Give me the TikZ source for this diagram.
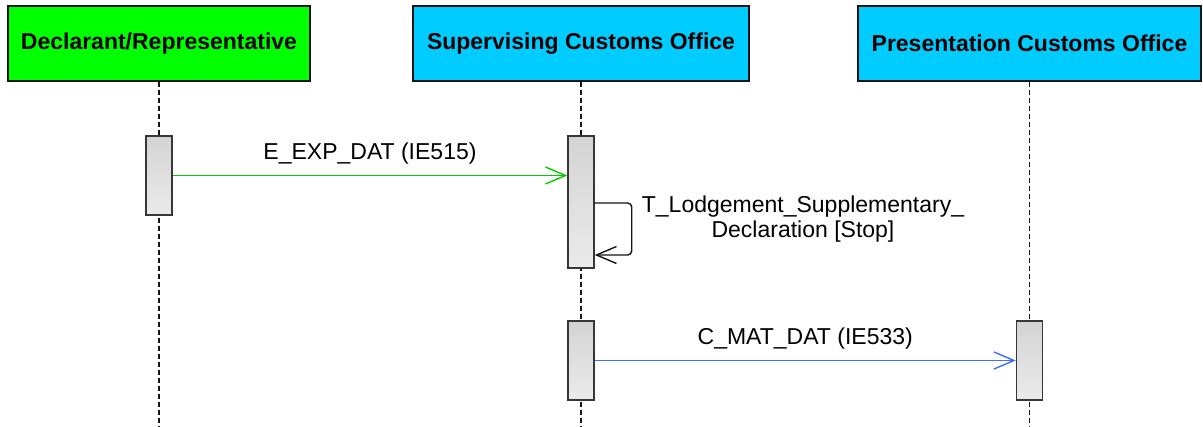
\documentclass[tikz,border=0pt]{standalone}
\usepackage{fontspec}
\setmainfont{Liberation Sans}
\usetikzlibrary{arrows.meta,positioning,calc}
\definecolor{actorgreen}{RGB}{0,255,0}
\definecolor{officecyan}{RGB}{0,204,255}
\definecolor{msggreen}{RGB}{0,204,0}
\definecolor{msgblue}{RGB}{60,110,255}
\definecolor{ink}{RGB}{20,20,20}

\begin{document}
\begin{tikzpicture}[x=1pt,y=-1pt,font=\fontsize{23}{25}\selectfont,
  head/.style={draw=ink,line width=1.5pt,minimum height=75pt,inner sep=0pt,font=\fontsize{23}{25}\selectfont\bfseries},
  life/.style={dash pattern=on 5pt off 3pt,line width=1.4pt,draw=ink},
  bar/.style={draw=ink!85,line width=1.4pt,top color=black!17,bottom color=black!8,minimum width=26pt,inner sep=0pt},
  msg/.style={-{Straight Barb[length=20pt,width=17pt]},line width=1.4pt}]
  \useasboundingbox (0,0) rectangle (1203,427);
  % lanes
  \node[head,fill=actorgreen,minimum width=302pt] (dec) at (159,43.5) {Declarant/Representative};
  \node[head,fill=officecyan,minimum width=336pt] (sup) at (581,43.5) {Supervising Customs Office};
  \node[head,fill=officecyan,minimum width=343pt] (pre) at (1029.5,43.5) {Presentation Customs Office};
  \coordinate (decEnd) at ($(dec.south)+(0,346)$);
  \coordinate (supEnd) at ($(sup.south)+(0,346)$);
  \coordinate (preEnd) at ($(pre.south)+(0,346)$);
  \draw[life] (dec.south) -- (decEnd);
  \draw[life] (sup.south) -- (supEnd);
  \draw[life] (pre.south) -- (preEnd);
  % activations
  \node[bar,minimum height=79pt] (decAct) at (dec.south |- 0,175.5) {};
  \node[bar,minimum height=132pt] (supAct) at (sup.south |- 0,202) {};
  \node[bar,minimum height=79pt] (supAct2) at (sup.south |- 0,360.5) {};
  \node[bar,minimum height=79pt] (preAct) at (pre.south |- 0,360.5) {};
  % messages
  \draw[msg,draw=msggreen] (decAct.east) -- node[above=7pt] (expLbl) {E\_EXP\_DAT (IE515)} (decAct.east -| supAct.west);
  \coordinate (loopOut) at ($(supAct.east)+(0,1)$);
  \coordinate (loopIn) at ($(supAct.east)+(0,53)$);
  \draw[msg,draw=ink,rounded corners=4pt] (loopOut) -- ++(37,0) |- (loopIn);
  \node[align=center] (loopLbl) at (803,219.5) {T\_Lodgement\_Supplementary\_\\Declaration [Stop]};
  \draw[msg,draw=msgblue] (supAct2.east) -- node[above=7pt] (matLbl) {C\_MAT\_DAT (IE533)} (supAct2.east -| preAct.west);
\end{tikzpicture}
\end{document}
